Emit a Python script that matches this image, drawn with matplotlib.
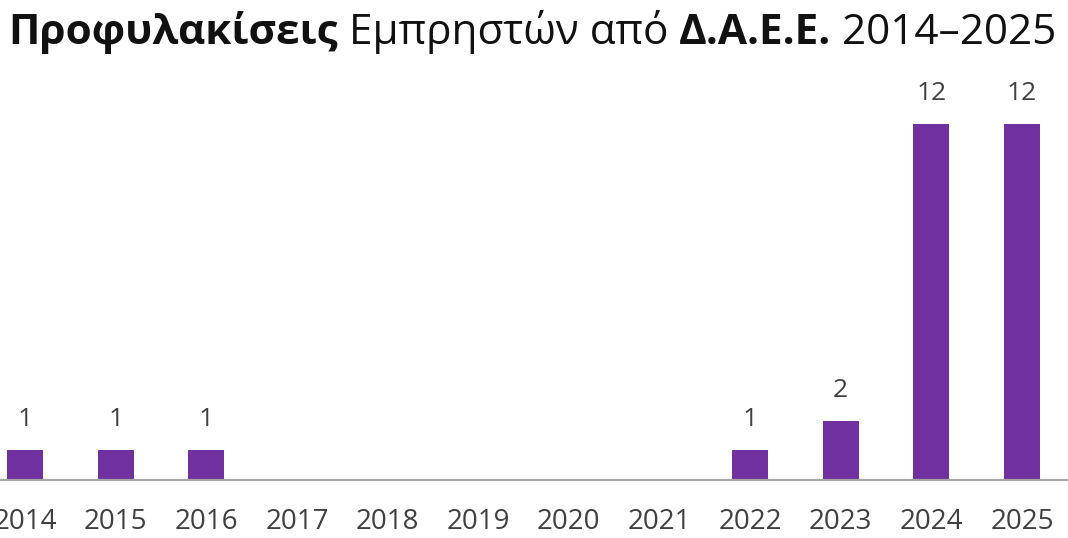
import matplotlib
matplotlib.use("Agg")
import matplotlib.pyplot as plt
import numpy as np

years = ["2014", "2015", "2016", "2017", "2018", "2019", "2020", "2021", "2022", "2023", "2024", "2025"]
values = [1, 1, 1, 0, 0, 0, 0, 0, 1, 2, 12, 12]
title_parts = [("Προφυλακίσεις", "bold"), (" Εμπρηστών από ", "normal"),
               ("Δ.Α.Ε.Ε.", "bold"), (" 2014–2025", "normal")]

W, H = 1068, 538
fig = plt.figure(figsize=(W / 100, H / 100), dpi=100)
fig.patch.set_facecolor("white")

ax = fig.add_axes([0, (H - 480) / H, 1, 420 / H])
x = np.arange(len(years))
bars = ax.bar(x, values, width=0.4, color="#7030A0", zorder=2)
ax.set_xlim(-25 / 90.6, 11 + 46 / 90.6)
ax.set_ylim(0, 420 / 29.7)
for xi, v in zip(x, values):
    if v > 0:
        ax.annotate(str(v), (xi, v), xytext=(0, 13), textcoords="offset points",
                    ha="center", va="bottom", fontsize=19, color="#404040",
                    family="Open Sans")
for s in ["top", "right", "left"]:
    ax.spines[s].set_visible(False)
ax.spines["bottom"].set_color("#A6A6A6")
ax.spines["bottom"].set_linewidth(1.6)
ax.set_yticks([])
ax.set_xticks(x)
ax.set_xticklabels(years, fontsize=20, color="#404040", family="Open Sans")
ax.tick_params(axis="x", length=0, pad=20)
ax.set_facecolor("none")

# Title composed of bold/regular pieces
fig.canvas.draw()
renderer = fig.canvas.get_renderer()
base_size = 26
target_w = 1052
texts = []
for s, wgt in title_parts:
    t = fig.text(0, 0, s, fontsize=base_size, fontweight=wgt, family="Open Sans",
                 color="#111111", va="baseline", ha="left")
    texts.append(t)
total = sum(t.get_window_extent(renderer).width for t in texts)
scale = target_w / total
for t in texts:
    t.set_fontsize(base_size * scale)
fig.canvas.draw()
xpos = 8
ybase = 1 - 44 / H
for t in texts:
    t.set_position((xpos / W, ybase))
    xpos += t.get_window_extent(renderer).width

fig.savefig("out.png", dpi=100, facecolor="white")
